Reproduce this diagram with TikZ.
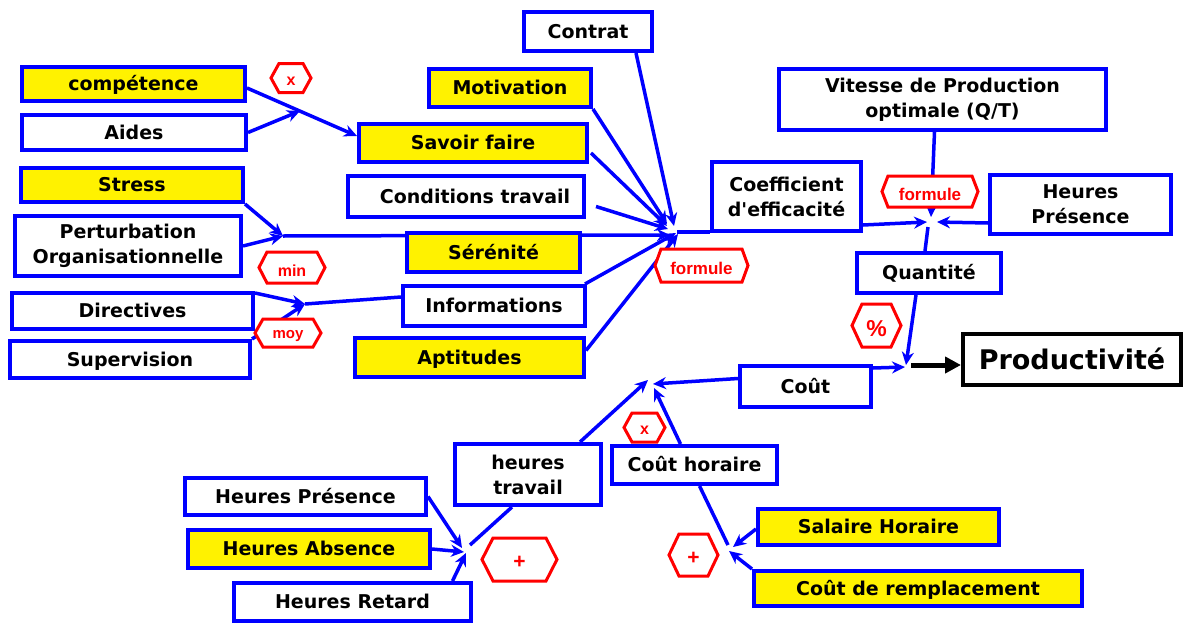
\documentclass[tikz,border=0pt]{standalone}
\usepackage{fontspec}
\setmainfont{DejaVu Sans}
\newfontfamily\redf{Liberation Sans}
\usetikzlibrary{arrows.meta}
\pgfdeclarelayer{bg}
\pgfsetlayers{bg,main}
\newcommand\hexa[8]{%
  \draw[hexline] (#2-#4,#3) -- (#2-#4+#6,#3-#5) -- (#2+#4-#6,#3-#5) -- (#2+#4,#3) -- (#2+#4-#6,#3+#5) -- (#2-#4+#6,#3+#5) -- cycle;
  \node[hext=#7] (#1) at (#2,#3+3) {#8};}
\begin{document}
\begin{tikzpicture}[x=1pt,y=-1pt,
  box/.style={draw=blue, line width=4pt, fill=white, inner sep=0pt, font=\fontsize{19}{25}\selectfont\bfseries, align=center},
  one/.style={text height=13.9pt, text depth=0pt},
  ybox/.style={box, fill=yellow},
  conn/.style={draw=blue, line width=3.5pt, -{Stealth[length=13pt,width=12pt]}},
  link/.style={draw=blue, line width=3.5pt},
  hexline/.style={draw=red, line width=3pt, fill=white, line join=miter},
  hext/.style={text=red, font=\redf\bfseries\fontsize{#1}{#1}\selectfont, inner sep=0pt},
]
\useasboundingbox (0,0) rectangle (1184,624);
% boxes
\node[ybox,one,minimum width=223pt,minimum height=34pt] (comp) at (133.5,84) {compétence};
\node[box,one,minimum width=224pt,minimum height=35pt] (aides) at (134,132.5) {Aides};
\node[ybox,one,minimum width=222pt,minimum height=34pt] (stress) at (132,185) {Stress};
\node[box,minimum width=226pt,minimum height=60pt] (pert) at (128,246) {Perturbation\\Organisationnelle};
\node[box,one,minimum width=241pt,minimum height=36pt] (dir) at (132.5,311) {Directives};
\node[box,one,minimum width=240pt,minimum height=37pt] (sup) at (130,359.5) {Supervision};
\node[box,one,minimum width=128pt,minimum height=39pt] (contrat) at (588,31.5) {Contrat};
\node[ybox,one,minimum width=162pt,minimum height=38pt] (motiv) at (510,88) {Motivation};
\node[ybox,one,minimum width=228pt,minimum height=38pt] (savoir) at (473,143) {Savoir faire};
\node[box,one,minimum width=236pt,minimum height=41pt] (cond) at (466,196.5) {\hspace*{18pt}Conditions travail};
\node[ybox,one,minimum width=173pt,minimum height=39pt] (seren) at (493.5,252.5) {Sérénité};
\node[box,one,minimum width=182pt,minimum height=40pt] (info) at (494,306) {Informations};
\node[ybox,one,minimum width=229pt,minimum height=39pt] (apt) at (469.5,357.5) {Aptitudes};
\node[box,minimum width=149pt,minimum height=69pt] (coef) at (786.5,196.5) {Coefficient\\d\textquotesingle efficacité};
\node[box,minimum width=327pt,minimum height=61pt] (vit) at (942.5,99.5) {Vitesse de Production\\optimale (Q/T)};
\node[box,minimum width=181pt,minimum height=59pt] (hpr) at (1080.5,204.5) {Heures\\Présence};
\node[box,one,minimum width=144pt,minimum height=40pt] (quant) at (929,273) {Quantité};
\node[box,draw=black,minimum width=218pt,minimum height=51pt,font=\fontsize{27}{30}\selectfont\bfseries,text height=19.7pt,text depth=0pt] (prod) at (1072,359.5) {Productivité};
\node[box,one,minimum width=131pt,minimum height=41pt] (cout) at (805.5,386.5) {Coût};
\node[box,minimum width=146pt,minimum height=61pt] (ht) at (528,474.5) {heures\\travail};
\node[box,one,minimum width=241pt,minimum height=37pt] (hpb) at (305.5,496.5) {Heures Présence};
\node[ybox,one,minimum width=242pt,minimum height=38pt] (habs) at (309,549) {Heures Absence};
\node[box,one,minimum width=237pt,minimum height=38pt] (hret) at (352.5,602) {Heures Retard};
\node[box,one,minimum width=165pt,minimum height=38pt] (ch) at (694.5,465) {Coût horaire};
\node[ybox,one,minimum width=241pt,minimum height=36pt] (sal) at (878.5,527) {Salaire Horaire};
\node[ybox,one,minimum width=328pt,minimum height=35pt] (rem) at (918,588.5) {Coût de remplacement};
% junctions
\coordinate (j1) at (300,111);
\coordinate (j2) at (283,236);
\coordinate (j3) at (305,304);
\coordinate (cCon) at (674,226);
\coordinate (cMot) at (667,224);
\coordinate (cSav) at (667,226);
\coordinate (cCond) at (668,229);
\coordinate (cSer) at (670,235);
\coordinate (cInf) at (676,233);
\coordinate (cApt) at (678,234);
\coordinate (cOut) at (677,232);
\coordinate (jR) at (931,222);
\coordinate (jP) at (906,365);
\coordinate (jB) at (651,384);
\coordinate (jC) at (730,548);
\coordinate (jH) at (465,551);
% connectors
\begin{pgfonlayer}{bg}
\draw[conn] ([shift={(0,4)}]comp.east) -- ([shift={(0,-7)}]savoir.west);
\draw[conn] (aides.east) -- (j1);
\draw[conn] (stress.south east) -- (j2);
\draw[conn] (pert.east) -- (j2);
\draw[conn] (j2) -- (cSer);
\draw[conn] ([shift={(0,2)}]dir.north east) -- (j3);
\draw[conn] (sup.north east) -- (j3);
\draw[link] (j3) -- ([shift={(0,-9)}]info.west);
\draw[conn] ([shift={(-2,0)}]info.north east) -- (cInf);
\draw[conn] ([shift={(0,-7)}]apt.east) -- (cApt);
\draw[conn] ([shift={(48,0)}]contrat.south) -- (cCon);
\draw[conn] (motiv.south east) -- (cMot);
\draw[conn] ([shift={(2,10)}]savoir.east) -- (cSav);
\draw[conn] ([shift={(10,10)}]cond.east) -- (cCond);
\draw[link] (cOut) -- ([shift={(0,-1)}]coef.south west);
\draw[conn] ([shift={(0,-8)}]coef.south east) -- ([shift={(-4,0)}]jR);
\draw[conn] ([shift={(0,18.5)}]hpr.west) -- ([shift={(6,0)}]jR);
\draw[conn] ([shift={(-8,0)}]vit.south) -- ([shift={(0,-5)}]jR);
\draw[link] ([shift={(-3,5)}]jR) -- ([shift={(-4,0)}]quant.north);
\draw[conn] ([shift={(-13,0)}]quant.south) -- (jP);
\draw[conn] ([shift={(0,4)}]cout.north east) -- ([shift={(-1,2)}]jP);
\draw[black, line width=5pt, -{Triangle[length=16pt,width=16pt]}] ([shift={(5,0)}]jP) -- ([shift={(0,5.5)}]prod.west);
\draw[conn] ([shift={(0,-8)}]cout.west) -- ([shift={(2,0)}]jB);
\draw[conn] ([shift={(52,0)}]ht.north) -- ([shift={(-3,-4)}]jB);
\draw[conn] ([shift={(-14,0)}]ch.north) -- ([shift={(3,4)}]jB);
\draw[link] ([shift={(5,0)}]ch.south) -- ([shift={(-2,-3)}]jC);
\draw[conn] ([shift={(0,2)}]sal.west) -- ([shift={(3,-1)}]jC);
\draw[conn] (rem.north west) -- ([shift={(-1,3)}]jC);
\draw[conn] (hpb.east) -- ([shift={(-3,-3)}]jH);
\draw[conn] (habs.east) -- ([shift={(-1,1)}]jH);
\draw[conn] ([shift={(100,0)}]hret.north) -- ([shift={(1,2)}]jH);
\draw[link] ([shift={(5,-6)}]jH) -- ([shift={(-16,0)}]ht.south);
\end{pgfonlayer}
% operator hexagons
\hexa{hx1}{291}{78}{20}{14.5}{8}{16}{x}
\hexa{hmin}{292}{267.5}{33}{15.5}{8}{16}{min}
\hexa{hmoy}{288}{333}{33}{14}{8}{15}{moy}
\hexa{hf1}{701.5}{265.5}{46.5}{16.5}{6}{17}{formule}
\hexa{hf2}{930}{191.5}{48}{15.5}{6}{17}{formule}
\hexa{hpct}{876.5}{325.5}{24.5}{21.5}{10}{23}{\%}
\hexa{hx2}{644.5}{427.5}{20.5}{14.5}{8}{16}{x}
\hexa{hp1}{519.5}{559.5}{37.5}{21.5}{11}{21}{+}
\hexa{hp2}{693.5}{555}{24.5}{21}{10}{21}{+}
\end{tikzpicture}
\end{document}
